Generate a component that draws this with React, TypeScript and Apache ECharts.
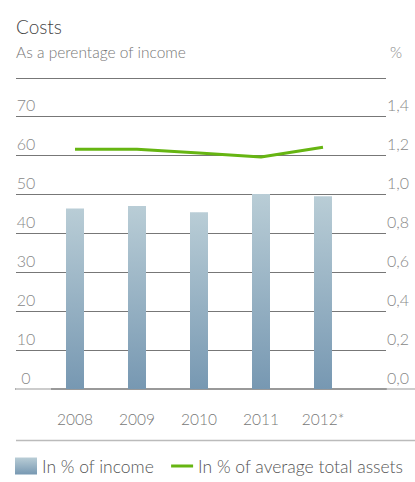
import React, { useEffect, useRef } from "react";
import * as echarts from "echarts";

const years = ["2008", "2009", "2010", "2011", "2012*"];
const incomePct = [46.3, 46.9, 45.3, 50.0, 49.4];
const assetsPct = [1.23, 1.23, 1.21, 1.19, 1.24];
const leftTicks = { min: 0, max: 70, interval: 10 };
const rightTicks = { min: 0, max: 1.4, interval: 0.2 };

const FONT = "Lato, 'Open Sans', sans-serif";
const W = 300;

export default function App() {
  const ref = useRef<HTMLDivElement>(null);
  useEffect(() => {
    if (!ref.current) return;
    const chart = echarts.init(ref.current, undefined, { renderer: "svg" });
    const gridTop = 116;
    const gridH = 273;
    chart.setOption({
      animation: false,
      textStyle: { fontFamily: FONT, fontWeight: W },
      grid: [
        { left: 16, right: 29, top: gridTop, height: gridH },
        { left: 44, right: 61, top: gridTop, height: gridH },
      ],
      xAxis: [
        {
          gridIndex: 0,
          type: "category",
          data: years,
          axisLine: { show: true, lineStyle: { color: "#999", width: 2 } },
          axisTick: { show: false },
          axisLabel: { show: false },
          splitLine: { show: false },
        },
        {
          gridIndex: 1,
          type: "category",
          data: years,
          axisLine: { show: false },
          axisTick: { show: false },
          axisLabel: { margin: 22, fontSize: 15.5, color: "#777", fontFamily: FONT, fontWeight: W },
        },
      ],
      yAxis: [
        {
          gridIndex: 0,
          type: "value",
          position: "left",
          ...leftTicks,
          axisLine: { show: false },
          axisTick: { show: false },
          splitLine: { show: true, lineStyle: { color: "#777", width: 1 } },
          axisLabel: {
            inside: true,
            margin: 10,
            align: "center",
            verticalAlign: "bottom",
            padding: [0, 0, 4, 0],
            fontSize: 16,
            color: "#888",
            fontFamily: FONT,
            fontWeight: W,
          },
        },
        {
          gridIndex: 0,
          type: "value",
          position: "right",
          ...rightTicks,
          axisLine: { show: false },
          axisTick: { show: false },
          splitLine: { show: false },
          axisLabel: {
            margin: 12,
            align: "center",
            verticalAlign: "bottom",
            padding: [0, 0, 4, 0],
            fontSize: 16,
            color: "#888",
            fontFamily: FONT,
            fontWeight: W,
            formatter: (v: number) => v.toFixed(1).replace(".", ","),
          },
        },
        { gridIndex: 1, type: "value", ...leftTicks, show: false },
        { gridIndex: 1, type: "value", ...rightTicks, show: false },
      ],
      legend: {
        left: 15,
        top: 457,
        width: 420,
        padding: 0,
        itemWidth: 22,
        itemHeight: 17,
        itemGap: 17,
        textStyle: { fontSize: 17.5, color: "#555", fontFamily: FONT, fontWeight: W },
        data: [
          { name: "In % of income", icon: "rect" },
          { name: "In % of average total assets", icon: "path://M0,0L22,0L22,3L0,3Z" },
        ],
      },
      series: [
        {
          name: "In % of income",
          type: "bar",
          xAxisIndex: 1,
          yAxisIndex: 2,
          barWidth: 18,
          data: incomePct,
          itemStyle: {
            color: new echarts.graphic.LinearGradient(0, 0, 0, 1, [
              { offset: 0, color: "#b9cdd6" },
              { offset: 1, color: "#7798b2" },
            ]),
          },
        },
        {
          name: "In % of average total assets",
          type: "line",
          xAxisIndex: 1,
          yAxisIndex: 3,
          data: assetsPct,
          symbol: "none",
          showSymbol: false,
          lineStyle: { color: "#66b512", width: 3 },
          itemStyle: { color: "#66b512" },
          z: 5,
        },
      ],
      graphic: [
        {
          type: "text",
          left: 16,
          top: 17,
          style: { text: "Costs", fontSize: 19, fill: "#444", fontFamily: FONT, fontWeight: W },
        },
        {
          type: "text",
          left: 16,
          top: 44,
          style: { text: "As a perentage of income", fontSize: 15.5, fill: "#777", fontFamily: FONT, fontWeight: W },
        },
        {
          type: "text",
          left: 390,
          top: 44,
          style: { text: "%", fontSize: 15.5, fill: "#888", fontFamily: FONT, fontWeight: W },
        },
        {
          type: "line",
          shape: { x1: 16, y1: 78.5, x2: 386, y2: 78.5 },
          style: { stroke: "#777", lineWidth: 1 },
        },
        {
          type: "line",
          shape: { x1: 16, y1: 389, x2: 51, y2: 389 },
          style: { stroke: "#ccc", lineWidth: 2 },
          z: 10,
        },
        {
          type: "line",
          shape: { x1: 386, y1: 389, x2: 415, y2: 389 },
          style: { stroke: "#ccc", lineWidth: 2 },
        },
        {
          type: "line",
          shape: { x1: 16, y1: 440.5, x2: 415, y2: 440.5 },
          style: { stroke: "#bbb", lineWidth: 1.5 },
        },
      ],
    });
    return () => chart.dispose();
  }, []);
  return <div ref={ref} style={{ width: 415, height: 482, position: "absolute", left: 0, top: 0 }} />;
}
